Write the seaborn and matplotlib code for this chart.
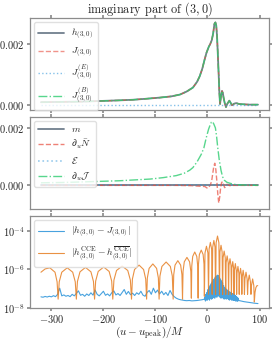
import numpy as np
import matplotlib
matplotlib.use('Agg')
import matplotlib.pyplot as plt
import matplotlib.ticker as mticker
import seaborn as sns

# --- data ---
# top panel: imaginary part of h_(3,0) (J and J^(B) lie on top of it)
u_h = [-320, -280, -240, -206, -170, -143, -120, -92, -70, -53, -40, -28, -20, -15,
       -10, -5.7, -2, 2.5, 5, 8.3, 11, 13.3, 15.2, 16.8, 18.4, 20, 21.6, 22.8, 24.1,
       26, 27.9, 29.5, 31, 33, 35.5, 38.5, 42, 44.5, 47, 51, 55, 61, 70, 80, 90, 97]
h_vals = [0.00008, 0.00009, 0.0001, 0.00012, 0.00014, 0.00016, 0.00019, 0.00023,
          0.00027, 0.00033, 0.00043, 0.00056, 0.00075, 0.00093, 0.00118, 0.00147,
          0.0017, 0.0019, 0.00198, 0.00212, 0.00235, 0.00265, 0.0027, 0.0026,
          0.00223, 0.0016, 0.00094, 0.0004, 0.00002, 0.00028, 0.00045, 0.00038,
          0.00022, 0.00006, -0.00008, 0.00004, 0.00013, 0.00006, -0.00002, 0.00003,
          0.00005, 0.00002, 0.00001, 0.0, 0.0, 0.0]
u_flat = [-320, 97]
flat_vals = [0.0, 0.0]

# middle panel
u_dJ = [-320, -280, -240, -207, -170, -140, -110, -85, -60, -45, -34, -28, -20, -12,
        -7, -2.5, 2, 5, 7.5, 9.5, 12, 15.2, 17.5, 19.7, 22.5, 26, 29, 32.4, 37, 42,
        50, 60, 75, 97]
dJ_vals = [0.00009, 0.0001, 0.00012, 0.00014, 0.00016, 0.00019, 0.00022, 0.00027,
           0.00034, 0.00042, 0.00053, 0.00062, 0.00082, 0.00108, 0.0013, 0.00165,
           0.00195, 0.0021, 0.0022, 0.00222, 0.00214, 0.002, 0.0017, 0.00131,
           0.0009, 0.00052, 0.0003, 0.00018, 0.00011, 0.00008, 0.00004, 0.00002,
           0.00001, 0.0]
u_dN = [-320, -60, -30, -15, -5, -1, 0.6, 3, 5.5, 8, 10, 12, 14, 16, 17.8, 19.8, 21.6,
        23.5, 25.4, 27.2, 29, 31, 33, 35.2, 37.5, 40, 43, 50, 97]
dN_vals = [0.0, 0.0, -0.00001, -0.00003, -0.00004, -0.00009, -0.0001, -0.00005,
           0.00002, 0.00015, 0.0004, 0.00065, 0.00077, 0.00055, 0.00018, -0.0003,
           -0.00061, -0.0004, -0.00005, 0.0001, 0.00013, 0.00002, -0.00008,
           -0.00003, 0.00004, 0.00001, -0.00001, 0.0, 0.0]

# bottom panel, log10 of |h - J|
u_diff = [-320, -316, -312, -308, -304, -300, -296, -292, -288, -284, -280, -276,
          -272, -268, -264, -260, -256, -252, -248, -244, -240, -236, -232, -228,
          -224, -220, -216, -212, -208, -204, -200, -196, -192, -188, -184, -180,
          -176, -172, -168, -164, -160, -156, -152, -148, -144, -140, -136, -132,
          -128, -124, -120, -116, -112, -108, -104, -100, -96, -92, -88, -84, -80,
          -76, -72, -68, -64, -60, -56, -52, -48, -44, -40, -35, -30, -25, -20, -15,
          -10, -6, -5, -4, -3, -2, -1, 0, 1, 2, 3, 4, 5, 6, 7, 8, 9, 10, 11, 12, 13,
          14, 15, 16, 17, 18, 19, 20, 21, 22, 23, 24, 25, 26, 27, 28, 29, 30, 31,
          32, 33, 34, 35, 36, 37, 38, 39, 40, 41, 42, 43, 44, 45, 46, 47, 48, 49,
          50, 51, 52, 53, 54, 55, 56, 57, 58, 59, 60, 65, 70, 75, 80, 85, 90, 97]
log_diff = [-7.43, -7.45, -7.41, -7.44, -7.40, -7.43, -7.37, -7.42, -7.30, -6.98,
            -7.38, -7.33, -7.40, -7.36, -7.42, -7.30, -7.38, -7.25, -7.12, -7.35,
            -7.30, -7.40, -7.28, -7.36, -7.22, -7.34, -7.08, -7.30, -7.38, -7.26,
            -7.14, -7.35, -7.28, -7.38, -7.22, -7.12, -7.33, -7.26, -7.36, -7.20,
            -7.05, -7.30, -7.15, -7.32, -7.24, -7.36, -7.22, -7.30, -7.14, -7.34,
            -7.40, -7.20, -7.10, -7.30, -6.98, -7.22, -7.08, -7.28, -7.14, -7.32,
            -7.20, -7.36, -7.10, -7.30, -7.42, -7.50, -7.55, -7.58, -7.60, -7.62,
            -7.63, -7.62, -7.64, -7.63, -7.62, -7.60, -7.58, -7.55,
            -7.45, -7.65, -7.30, -7.60, -7.20, -7.60, -7.05, -7.55, -6.95, -7.60,
            -6.85, -7.50, -6.75, -7.55, -6.65, -7.50, -6.55, -7.45, -6.50, -7.50,
            -6.40, -7.40, -6.35, -7.45, -6.30, -7.35, -6.32, -7.40, -6.40, -7.45,
            -6.50, -7.50, -6.60, -7.45, -6.70, -7.50, -6.85, -7.55, -6.95, -7.50,
            -7.00, -7.55, -7.05, -7.50, -7.10, -7.55, -7.15, -7.60, -7.18, -7.55,
            -7.20, -7.60, -7.25, -7.60, -7.28, -7.62, -7.30, -7.62, -7.35, -7.65,
            -7.40, -7.65, -7.45, -7.66, -7.50, -7.62, -7.65, -7.68, -7.70, -7.72,
            -7.74, -7.76, -7.78]

# bottom panel, log10 of |h^CCE - h^CCEbar|
u_cce = [-320, -312, -303, -293, -289,
         -287, -284.9, -280, -269.5, -259, -254.1,
         -252, -249.9, -245, -234.5, -224, -219.1,
         -217, -214.9, -210, -199.5, -189, -184.1,
         -182, -179.8, -174.8, -164, -153.2, -148.2,
         -146, -144.3, -140.2, -131.5, -122.8, -118.7,
         -117, -115.6, -112.2, -105, -97.8, -94.4,
         -93, -91.4, -87.6, -79.5, -71.4, -67.6,
         -66, -64.9, -62.4, -57, -51.6, -49.1,
         -48, -47, -44.6, -39.5, -34.4, -32,
         -31, -30.2, -28.4, -24.5, -20.6, -18.8,
         -18, -17.3, -15.6, -12, -8.4, -6.7,
         -6, -4.8, -2, 0.8,
         2, 3.05, 5.5, 7.95,
         9, 10, 12.25, 14.5,
         15.5, 16.6, 19.25, 21.9,
         23, 23.9, 26, 28.1,
         29, 29.9, 32, 34.1,
         35, 35.8, 37.75, 39.7,
         40.5, 41.3, 43.25, 45.2,
         46, 46.75, 48.5, 50.25,
         51, 51.75, 53.5, 55.25,
         56, 56.75, 58.5, 60.25,
         61, 61.75, 63.5, 65.25,
         66, 66.75, 68.5, 70.25,
         71, 71.9, 74, 76.1,
         77, 78, 80.25, 82.5,
         83.5, 84.5, 86.75, 89,
         90, 91.3, 93, 95, 96.5]
log_cce = [-6.15, -5.98, -5.92, -6.15, -6.65,
           -7.55, -6.65, -6.15, -5.92, -6.15, -6.65,
           -7.55, -6.63, -6.13, -5.90, -6.13, -6.63,
           -7.55, -6.61, -6.11, -5.88, -6.11, -6.61,
           -7.55, -6.56, -6.06, -5.83, -6.06, -6.56,
           -7.55, -6.51, -6.01, -5.78, -6.01, -6.51,
           -7.55, -6.45, -5.95, -5.72, -5.95, -6.45,
           -7.55, -6.35, -5.85, -5.62, -5.85, -6.35,
           -7.55, -6.28, -5.78, -5.55, -5.78, -6.28,
           -7.55, -6.11, -5.61, -5.38, -5.61, -6.11,
           -7.50, -5.83, -5.33, -5.10, -5.33, -5.83,
           -7.50, -5.73, -5.23, -5.00, -5.23, -5.73,
           -7.40, -5.15, -4.80, -5.15,
           -7.30, -4.95, -4.60, -4.95,
           -7.30, -4.85, -4.50, -4.85,
           -7.30, -4.62, -4.27, -4.62,
           -7.30, -5.10, -4.75, -5.10,
           -7.30, -5.40, -5.05, -5.40,
           -7.30, -5.65, -5.30, -5.65,
           -7.30, -5.80, -5.45, -5.80,
           -7.30, -5.95, -5.60, -5.95,
           -7.30, -6.05, -5.70, -6.05,
           -7.30, -6.20, -5.85, -6.20,
           -7.30, -6.30, -5.95, -6.30,
           -7.30, -6.40, -6.05, -6.40,
           -7.30, -6.50, -6.15, -6.50,
           -7.30, -6.65, -6.30, -6.65,
           -7.30, -6.85, -6.50, -6.85,
           -7.70, -7.20, -6.95, -6.85, -6.85]

# --- style ---
sns.set_theme(style="ticks", rc={
    "axes.edgecolor": "0.55",
    "axes.linewidth": 0.9,
    "xtick.color": "0.55",
    "ytick.color": "0.55",
    "xtick.labelcolor": "0.15",
    "ytick.labelcolor": "0.15",
    "xtick.major.size": 2.5,
    "ytick.major.size": 2.5,
    "xtick.top": True,
    "ytick.right": True,
})
plt.rcParams['font.family'] = 'serif'
plt.rcParams['font.serif'] = ['cmr10', 'DejaVu Serif']
plt.rcParams['mathtext.fontset'] = 'cm'
plt.rcParams['axes.formatter.use_mathtext'] = True
plt.rcParams['font.size'] = 7.5

fig, axes = plt.subplots(3, 1, sharex=True, figsize=(2.73, 3.42), dpi=100)
fig.subplots_adjust(left=0.11, right=0.985, top=0.947, bottom=0.1, hspace=0.085)
ax1, ax2, ax3 = axes

c_dark = '#34495e'
c_red = '#e74c3c'
c_blue = '#3498db'
c_green = '#2ecc71'
c_orange = '#e67e22'

# top
sns.lineplot(x=u_h, y=h_vals, ax=ax1, color=c_dark, alpha=0.7, lw=1.3, label=r'$h_{(3,0)}$')
sns.lineplot(x=u_h, y=h_vals, ax=ax1, color=c_red, alpha=0.6, lw=1.0, linestyle='--', label=r'$J_{(3,0)}$')
sns.lineplot(x=u_flat, y=flat_vals, ax=ax1, color=c_blue, alpha=0.6, lw=1.0, linestyle=':', label=r'$J^{(E)}_{(3,0)}$')
sns.lineplot(x=u_h, y=h_vals, ax=ax1, color=c_green, alpha=0.8, lw=1.0, linestyle='-.', label=r'$J^{(B)}_{(3,0)}$')
ax1.set_ylim(-0.00016, 0.00284)
ax1.set_yticks([0, 0.002])
ax1.set_title(r'imaginary part of $(3,0)$', fontsize=8.8, pad=2)

# middle
sns.lineplot(x=u_flat, y=flat_vals, ax=ax2, color=c_dark, alpha=0.7, lw=1.3, label=r'$m$')
sns.lineplot(x=u_dN, y=dN_vals, ax=ax2, color=c_red, alpha=0.7, lw=1.0, linestyle='--', label=r'$\partial_u\bar{N}$')
sns.lineplot(x=u_flat, y=flat_vals, ax=ax2, color=c_blue, alpha=0.5, lw=1.2, linestyle=':', label=r'$\mathcal{E}$')
sns.lineplot(x=u_dJ, y=dJ_vals, ax=ax2, color=c_green, alpha=0.8, lw=1.0, linestyle='-.', label=r'$\partial_u\mathcal{J}$')
ax2.set_ylim(-0.00081, 0.00237)
ax2.set_yticks([0, 0.002])

# bottom
sns.lineplot(x=u_diff, y=10.0 ** np.array(log_diff), ax=ax3, color=c_blue, alpha=0.9, lw=0.8,
             label=r'$|h_{(3,0)}-J_{(3,0)}|$')
sns.lineplot(x=u_cce, y=10.0 ** np.array(log_cce), ax=ax3, color=c_orange, alpha=0.85, lw=0.8,
             label=r'$|h^{\rm CCE}_{(3,0)}-h^{\overline{\rm CCE}}_{(3,0)}|$')
ax3.set_yscale('log')
ax3.set_ylim(1e-8, 10 ** -3.25)
ax3.set_yticks([1e-8, 1e-6, 1e-4])
ax3.yaxis.set_minor_locator(mticker.NullLocator())
ax3.set_xlim(-341, 118)
ax3.set_xticks([-300, -200, -100, 0, 100])
ax3.set_xlabel(r'$(u-u_{\rm peak})/M$', fontsize=8, labelpad=-0.5)

for ax in axes:
    ax.set_ylabel('')
    ax.tick_params(labelsize=7.5, pad=1.5)
    ax.legend(loc='upper left', fontsize=7, frameon=True, handlelength=2.6,
              borderpad=0.45, labelspacing=0.4, handletextpad=0.8,
              borderaxespad=0.4, fancybox=True, edgecolor='0.85')

fig.savefig('out.png', dpi=100)
plt.close(fig)
